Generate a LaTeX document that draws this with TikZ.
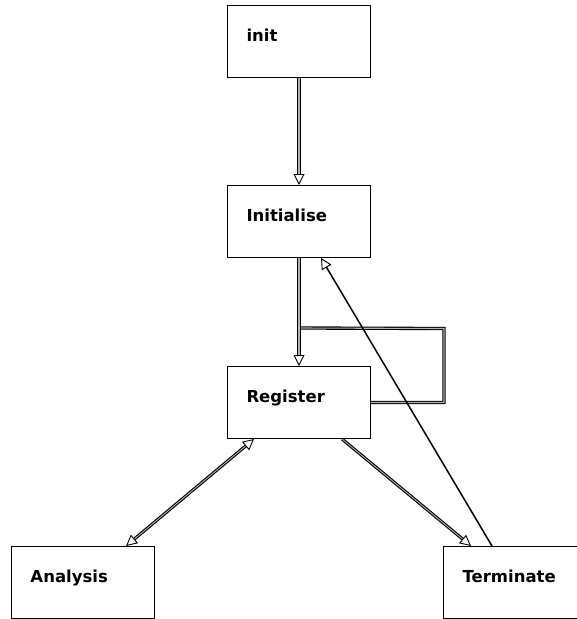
\documentclass[tikz,border=0pt]{standalone}
\usepackage{fontspec}
\setmainfont{DejaVu Sans}
\usetikzlibrary{arrows.meta}
\begin{document}
\begin{tikzpicture}[x=1pt,y=-1pt,
  statebox/.style={draw, line width=1pt, rectangle, anchor=north west,
    minimum width=143pt, minimum height=72pt, text width=143pt, align=left,
    inner xsep=0pt, inner ysep=0pt, text height=6pt, text depth=6pt,
    font=\fontsize{16.5}{16.5}\selectfont\bfseries},
  opentri/.tip={Triangle[open, length=11pt, width=11pt, line width=0.9pt]},
  dbl/.style={draw, line width=1.1pt, double=white!70!black, double distance=1.1pt},
  dbldark/.style={draw, line width=1.1pt, double=gray!60, double distance=0.9pt},
  sgl/.style={draw, line width=1.5pt}]
\useasboundingbox (0,0) rectangle (577,619);
\clip (0,0) rectangle (577,619);
\fill[white] (0,0) rectangle (577,619);

\node[statebox] (init) at (227,5) {\hspace*{19pt}init};
\node[statebox] (ini) at (227,185) {\hspace*{19pt}Initialise};
\node[statebox] (reg) at (227,366) {\hspace*{19pt}Register};
\node[statebox] (ana) at (11,546) {\hspace*{19pt}Analysis};
\node[statebox] (term) at (443,546) {\hspace*{19pt}Terminate};

% loop corners beside Register
\coordinate (loopa) at ([xshift=73pt]reg.east);
\coordinate (loopb) at ([xshift=73pt, yshift=74pt]reg.east);
\coordinate (loopc) at ([yshift=38pt]reg.north);

% self-loop on Register (its head is shared with the incoming arrow)
\draw[dbl] (reg.east) -- (loopa) -- (loopb) -- (loopc) -- ([yshift=12pt]reg.north);

% sequential transitions
\draw[dbl, -{opentri}] (init.south) -- (ini.north);
\draw[dbl, -{opentri}] (ini.south) -- (reg.north);

% diagonal transitions
\draw[dbldark, -{opentri}] ([xshift=115pt]reg.south west) -- ([xshift=28pt]term.north west);
\draw[dbldark, {opentri}-{opentri}] ([xshift=27pt]reg.south west) -- ([xshift=115pt]ana.north west);
\draw[sgl, -{opentri}] ([xshift=49pt]term.north west) -- ([xshift=94pt]ini.south west);
\end{tikzpicture}
\end{document}
